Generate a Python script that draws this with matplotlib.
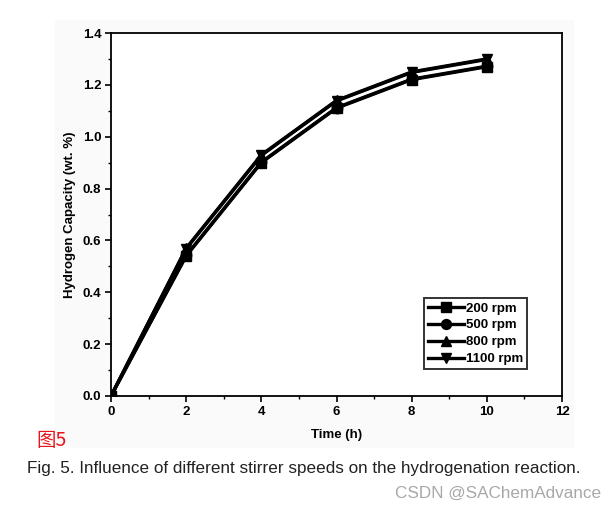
import matplotlib
matplotlib.use("Agg")
import matplotlib.pyplot as plt
from matplotlib.ticker import MultipleLocator

time_h = [0, 2, 4, 6, 8, 10]
labels = ["200 rpm", "500 rpm", "800 rpm", "1100 rpm"]
cap_200 = [0.0, 0.54, 0.90, 1.11, 1.22, 1.27]
cap_500 = [0.0, 0.542, 0.902, 1.112, 1.222, 1.272]
cap_800 = [0.0, 0.57, 0.93, 1.14, 1.25, 1.30]
cap_1100 = [0.0, 0.568, 0.928, 1.138, 1.248, 1.298]
series = [cap_200, cap_500, cap_800, cap_1100]
markers = ["s", "o", "^", "v"]

fig = plt.figure(figsize=(6.15, 5.09), dpi=100)
fig.patches.append(plt.Rectangle((55/615, 1-447/509), 518/615, 427/509,
                                 transform=fig.transFigure, color="#fafafa", zorder=-5))
ax = fig.add_axes([111/615, 1-396/509, 451/615, 363/509])
for ys, m, lab in zip(series, markers, labels):
    ax.plot(time_h, ys, color="black", lw=2.4, marker=m, ms=7.5, label=lab)

ax.set_xlim(0, 12)
ax.set_ylim(0, 1.4)
ax.xaxis.set_minor_locator(MultipleLocator(1))
ax.yaxis.set_minor_locator(MultipleLocator(0.1))
ax.set_xticks([0, 2, 4, 6, 8, 10, 12])
ax.set_xticklabels(["0", "2", "4", "6", "8", "10", "12"])
ax.set_yticks([0, 0.2, 0.4, 0.6, 0.8, 1.0, 1.2, 1.4])
ax.set_yticklabels(["0.0", "0.2", "0.4", "0.6", "0.8", "1.0", "1.2", "1.4"])
ax.tick_params(which="major", direction="out", length=4, width=1.2,
               labelsize=9.5, pad=3)
ax.tick_params(which="minor", direction="out", length=2.5, width=1.0)
for lab in ax.get_xticklabels() + ax.get_yticklabels():
    lab.set_fontweight("bold")
    lab.set_family("Liberation Sans")
for s in ax.spines.values():
    s.set_linewidth(1.3)
ax.set_xlabel("Time (h)", fontsize=9.5, fontweight="bold", family="Liberation Sans", labelpad=8)
ax.set_ylabel("Hydrogen Capacity (wt. %)", fontsize=9.5, fontweight="bold",
              family="Liberation Sans", labelpad=5)

leg = ax.legend(loc="lower right", bbox_to_anchor=(0.922, 0.074), frameon=True, fancybox=False,
                edgecolor="black", handlelength=2.7, handletextpad=0.15,
                borderpad=0.3, labelspacing=0.35, borderaxespad=0, markerscale=0.95,
                prop={"family": "Liberation Sans", "weight": "bold", "size": 9.5})
leg.get_frame().set_linewidth(1.4)

fig.text(36/615, 1-441/509, "图5", color="#e8141c", fontsize=14,
         family=["Noto Sans CJK SC", "DejaVu Sans"], va="center", ha="left")
fig.text(27/615, 1-468/509, "Fig. 5. Influence of different stirrer speeds on the hydrogenation reaction.",
         fontsize=12.3, family="Liberation Sans", va="center", ha="left", color="#222222")
fig.text(601/615, 1-493/509, "CSDN @SAChemAdvance", fontsize=12.3, color="#a8a8a8",
         family="Liberation Sans", va="center", ha="right")

fig.savefig("out.png", dpi=100)
